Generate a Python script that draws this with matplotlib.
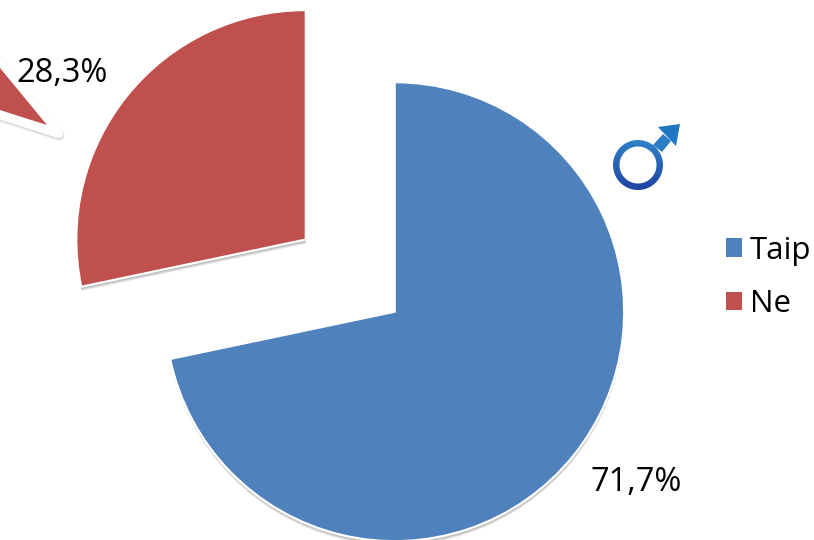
#!/usr/bin/env python
# coding: utf-8

import numpy as np
import matplotlib
matplotlib.use('Agg')
import matplotlib.pyplot as plt
import matplotlib.patheffects as pe
from matplotlib.patches import Patch, Wedge, Polygon, PathPatch
from matplotlib.path import Path

# data
labels = ['Taip', 'Ne']
shares = [71.7, 28.3]
share_text = ['71,7%', '28,3%']
colors = ['#4F81BD', '#C0504D']

plt.rcParams['font.family'] = ['Open Sans', 'DejaVu Sans']

# axes in pixels of the picture, y going up
fig = plt.figure(figsize=(8.14, 5.4), dpi=100)
ax = fig.add_axes([0, 0, 1, 1])


# soft shadow below a patch, made of a few offset copies
def soft_shadow():
    effects = []
    for off in [3.0, 2.3, 1.6, 0.9]:
        effects.append(pe.SimplePatchShadow(offset=(0.2, -off), shadow_rgbFace='k', alpha=0.09))
    effects.append(pe.Normal())
    return effects


# main pie, Ne slice pulled out (explode is in data units here)
wedges, _ = ax.pie(shares, colors=colors, startangle=90, counterclock=False,
                   center=(394.7, 228.3), radius=229.5, explode=[0, 114.5],
                   wedgeprops={'edgecolor': 'white', 'linewidth': 1.6})
for w in wedges:
    w.set_path_effects(soft_shadow())
    w.set_joinstyle('miter')

# piece of a second exploded slice, cut off by the left edge
# the white band is thick, so its shadow has to be stroked as well
sliver_back = Wedge((59, 406), 240, 129.5, 162.4, facecolor='white', edgecolor='white',
                    linewidth=6, joinstyle='round')
sliver_back.set_path_effects([
    pe.Stroke(linewidth=7.5, foreground='k', alpha=0.06, offset=(0.3, -1.2)),
    pe.Stroke(linewidth=6.5, foreground='k', alpha=0.10, offset=(0.3, -0.9)),
    pe.Normal(),
])
ax.add_patch(sliver_back)
sliver = Wedge((47, 415), 228, 129.5, 162.4, facecolor=colors[1], edgecolor='none')
ax.add_patch(sliver)

# percentage labels
ax.text(636.5, 57.5, share_text[0], fontsize=23.5, ha='center', va='center', color='black')
ax.text(62.5, 466, share_text[1], fontsize=23.5, ha='center', va='center', color='black')

# male sign: ring and arrow with vertical gradient
grad = np.linspace(0, 1, 64).reshape(-1, 1)
cmap = matplotlib.colors.LinearSegmentedColormap.from_list('male', ['#2F86CC', '#1F3F9F'])

ring_verts = []
ring_codes = []
for r, sign in [(25, 1), (18.5, -1)]:
    t = np.linspace(0, 2 * np.pi, 80) * sign
    ring_verts += list(zip(638 + r * np.cos(t), 375 + r * np.sin(t)))
    ring_codes += [Path.MOVETO] + [Path.LINETO] * 78 + [Path.CLOSEPOLY]
ring = PathPatch(Path(ring_verts, ring_codes), facecolor='none', edgecolor='none')
ax.add_patch(ring)
img = ax.imshow(grad, extent=(610, 666, 346, 404), origin='upper', cmap=cmap, aspect='auto', zorder=3)
img.set_clip_path(ring)

shaft = Polygon([(653, 395), (662, 388), (671, 399), (663, 406)], closed=True,
                facecolor='#2A7CC4', edgecolor='none', zorder=3)
ax.add_patch(shaft)
head = Polygon([(658, 413), (680, 416), (676, 394)], closed=True,
               facecolor='#1F77C4', edgecolor='none', zorder=3)
ax.add_patch(head)

ax.set_xlim(0, 814)
ax.set_ylim(0, 540)
ax.set_aspect('auto')
ax.axis('off')

# legend
handles = [Patch(facecolor=c, edgecolor='none') for c in colors]
ax.legend(handles, labels, loc='upper left', bbox_to_anchor=(726 / 814, 1 - 235.5 / 540),
          frameon=False, fontsize=22.5, handlelength=0.52, handleheight=0.52,
          handletextpad=0.25, labelspacing=0.76, borderaxespad=0, borderpad=0)

plt.savefig('out.png', dpi=100)
